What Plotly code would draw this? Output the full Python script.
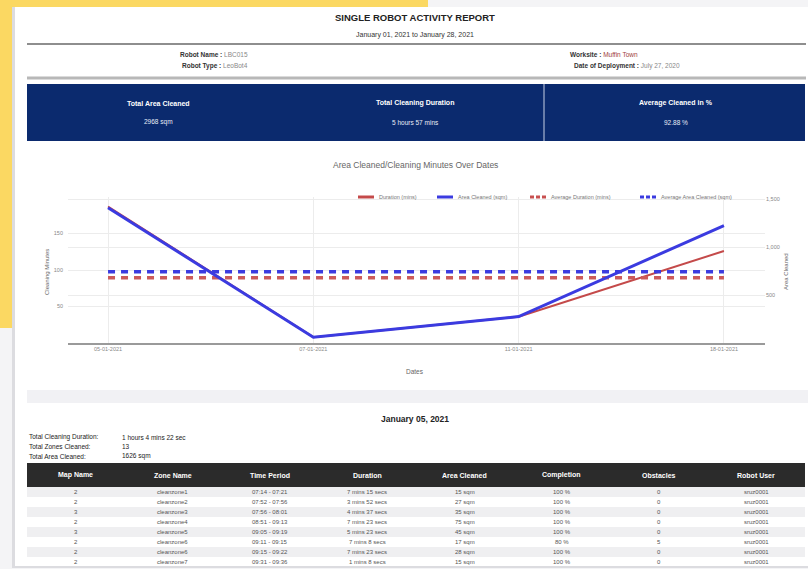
import plotly.graph_objects as go

W, H = 808, 569

# ---------------- data ----------------
dates = ["05-01-2021", "07-01-2021", "11-01-2021", "18-01-2021"]
duration_mins = [187, 8, 36, 126]
area_sqm = [1410, 60, 275, 1223]

left_ticks = [50, 100, 150]
right_ticks = [500, 1000, 1500]
right_tick_labels = ["500", "1,000", "1,500"]

table_headers = ["Map Name", "Zone Name", "Time Period", "Duration",
                 "Area Cleaned", "Completion", "Obstacles", "Robot User"]
map_names = ["2", "2", "3", "2", "3", "2", "2", "2"]
zone_names = ["cleanzone1", "cleanzone2", "cleanzone3", "cleanzone4",
              "cleanzone5", "cleanzone6", "cleanzone6", "cleanzone7"]
time_periods = ["07:14 - 07:21", "07:52 - 07:56", "07:56 - 08:01", "08:51 - 09:13",
                "09:05 - 09:19", "09:11 - 09:15", "09:15 - 09:22", "09:31 - 09:36"]
durations = ["7 mins 15 secs", "3 mins 52 secs", "4 mins 37 secs", "7 mins 23 secs",
             "5 mins 23 secs", "7 mins 8 secs", "7 mins 23 secs", "1 mins 8 secs"]
areas = ["15 sqm", "27 sqm", "35 sqm", "75 sqm", "45 sqm", "17 sqm", "28 sqm", "15 sqm"]
completions = ["100 %", "100 %", "100 %", "100 %", "100 %", "80 %", "100 %", "100 %"]
obstacles = ["0", "0", "0", "0", "0", "5", "0", "0"]
robot_users = ["sruz0001", "sruz0001", "sruz0001", "sruz0001",
               "sruz0001", "sruz0001", "sruz0001", "sruz0001"]

avg_duration = sum(duration_mins) / len(duration_mins)
avg_area = sum(area_sqm) / len(area_sqm)

# ---------------- helpers ----------------
def px(x):
    return x / W

def py(y):
    return 1 - y / H

FONT = "Liberation Sans, Arial, sans-serif"
NARROW = "Liberation Sans Narrow, Liberation Sans, Arial, sans-serif"

shapes = []
annotations = []

def rect(x0, y0, x1, y1, color, layer="below"):
    shapes.append(dict(type="rect", xref="paper", yref="paper",
                       x0=px(x0), x1=px(x1), y0=py(y1), y1=py(y0),
                       fillcolor=color, line=dict(width=0), layer=layer))

def hline(x0, x1, y, color, width, dash="solid", layer="below"):
    shapes.append(dict(type="line", xref="paper", yref="paper",
                       x0=px(x0), x1=px(x1), y0=py(y), y1=py(y),
                       line=dict(color=color, width=width, dash=dash), layer=layer))

def vline(x, y0, y1, color, width):
    shapes.append(dict(type="line", xref="paper", yref="paper",
                       x0=px(x), x1=px(x), y0=py(y0), y1=py(y1),
                       line=dict(color=color, width=width), layer="below"))

def ann(text, x, y, size, color="#222", xanchor="center", family=FONT, textangle=0):
    annotations.append(dict(text=text, xref="paper", yref="paper",
                            x=px(x), y=py(y), xanchor=xanchor, yanchor="middle",
                            showarrow=False, textangle=textangle,
                            font=dict(size=size, color=color, family=family)))

# ---------------- page background ----------------
rect(0, 0, 808, 569, "#f4f4f6")
rect(0, 0, 428, 9, "#fbd862")
rect(0, 0, 14, 328, "#fbd862")
rect(12, 7, 808, 568, "#dcdce0")
rect(15, 7, 808, 566, "#ffffff")

# header
ann("<b>SINGLE ROBOT ACTIVITY REPORT</b>", 415, 18, 9.5, "#222")
ann("January 01, 2021 to January 28, 2021", 415, 35, 7, "#333")
hline(27, 806, 44, "#8e8e8e", 2)
ann("<b>Robot Name :</b> <span style='color:#888'>LBC015</span>", 250, 55, 6.5, "#333", xanchor="right")
ann("<b>Robot Type :</b> <span style='color:#888'>LeoBot4</span>", 250, 66, 6.5, "#333", xanchor="right")
ann("<b>Worksite :</b> <span style='color:#a04040'>Muffin Town</span>", 640, 55, 6.5, "#333", xanchor="right")
ann("<b>Date of Deployment :</b> <span style='color:#888'>July 27, 2020</span>", 682, 66, 6.5, "#333", xanchor="right")
hline(27, 806, 78, "#b8b8b8", 3)

# blue summary box
rect(27, 84, 805, 141, "#0b2a6e")
vline(544, 84, 141, "#c8d0e4", 1)
ann("<b>Total Area Cleaned</b>", 158, 103, 7, "#ffffff")
ann("2968 sqm", 158, 122, 6.5, "#e8ecf6")
ann("<b>Total Cleaning Duration</b>", 415, 103, 7, "#ffffff")
ann("5 hours 57 mins", 415, 122, 6.5, "#e8ecf6")
ann("<b>Average Cleaned in %</b>", 676, 103, 7, "#ffffff")
ann("92.88 %", 676, 122, 6.5, "#e8ecf6")

# chart title and axis titles
ann("Area Cleaned/Cleaning Minutes Over Dates", 415, 165, 8.5, "#666")
ann("Cleaning Minutes", 47, 272, 6, "#666", textangle=-90)
ann("Area Cleaned", 786, 272, 6, "#666", textangle=-90)
ann("Dates", 415, 372, 6.5, "#666")

# custom legend
legend_items = [
    (358, "Duration (mins)", "#c44a4a", "solid"),
    (437, "Area Cleaned (sqm)", "#3b3be0", "solid"),
    (530, "Average Duration (mins)", "#c85050", "dot"),
    (640, "Average Area Cleaned (sqm)", "#3b3be0", "dot"),
]
for lx, label, col, d in legend_items:
    hline(lx, lx + 16, 197, col, 3, dash="solid" if d == "solid" else "4px,2px", layer="above")
    ann(label, lx + 19, 197, 5.5, "#777", xanchor="left")

# grey band before daily section
rect(27, 390, 808, 403, "#f1f1f4")

# daily section
ann("<b>January 05, 2021</b>", 415, 419, 8.5, "#222")
summary_labels = ["Total Cleaning Duration:", "Total Zones Cleaned:", "Total Area Cleaned:"]
summary_values = ["1 hours 4 mins 22 sec", "13", "1626 sqm"]
for i, (lab, val) in enumerate(zip(summary_labels, summary_values)):
    yy = 437 + i * 9.5
    ann(lab, 27, yy, 6.5, "#222", xanchor="left", family=NARROW)
    ann(val, 120, yy, 6.5, "#222", xanchor="left", family=NARROW)

# table drawn from the arrays
tx0, tx1 = 27, 805
head_y0, head_y1 = 463, 487
row_h = 10
col_w = (tx1 - tx0) / len(table_headers)
cols = [map_names, zone_names, time_periods, durations, areas,
        completions, obstacles, robot_users]
rect(tx0, head_y0, tx1, head_y1, "#2b2b2b")
for j, h in enumerate(table_headers):
    ann("<b>%s</b>" % h, tx0 + col_w * (j + 0.5), (head_y0 + head_y1) / 2, 7, "#ffffff")
n_rows = len(map_names)
for i in range(n_rows):
    ry0 = head_y1 + i * row_h
    ry1 = min(ry0 + row_h, 566)
    if i % 2 == 0:
        rect(tx0, ry0, tx1, ry1, "#efeff1")
    for j, col in enumerate(cols):
        cy = ry0 + row_h / 2
        if cy < 563:
            ann(col[i], tx0 + col_w * (j + 0.5), cy, 6, "#555", family=NARROW)

# ---------------- figure ----------------
fig = go.Figure()

blue = "#3b3be0"
red = "#c44a4a"

fig.add_trace(go.Scatter(x=dates, y=duration_mins, mode="lines",
                         line=dict(color=red, width=2), name="Duration (mins)",
                         yaxis="y"))
fig.add_trace(go.Scatter(x=dates, y=[avg_duration] * len(dates), mode="lines",
                         line=dict(color="#cc5a5a", width=3.5, dash="7px,6px"),
                         name="Average Duration (mins)", yaxis="y"))
fig.add_trace(go.Scatter(x=dates, y=[avg_area] * len(dates), mode="lines",
                         line=dict(color=blue, width=3.5, dash="7px,6px"),
                         name="Average Area Cleaned (sqm)", yaxis="y2"))
fig.add_trace(go.Scatter(x=dates, y=area_sqm, mode="lines",
                         line=dict(color=blue, width=3), name="Area Cleaned (sqm)",
                         yaxis="y2"))

fig.update_layout(
    width=W, height=H, autosize=False,
    margin=dict(l=0, r=0, t=0, b=0),
    paper_bgcolor="#ffffff", plot_bgcolor="rgba(0,0,0,0)",
    showlegend=False,
    font=dict(family=FONT, color="#777", size=6),
    xaxis=dict(domain=[px(68), px(765)], type="category",
               range=[-0.195, 3.2], showgrid=True, gridcolor="#ececec", gridwidth=1,
               showline=True, linecolor="#9a9a9a", linewidth=1.5,
               ticks="", tickfont=dict(size=5.5, color="#888"), fixedrange=True,
               zeroline=False),
    yaxis=dict(domain=[py(343), py(197)], range=[0, 200],
               tickvals=left_ticks, showgrid=True, gridcolor="#ececec",
               tickfont=dict(size=5.5, color="#888"), zeroline=False,
               showline=False, ticks="", ticklabelstandoff=4),
    yaxis2=dict(overlaying="y", side="right", range=[0, 1521],
                tickvals=right_ticks, ticktext=right_tick_labels,
                showgrid=True, gridcolor="#ececec",
                tickfont=dict(size=5.5, color="#888"), zeroline=False,
                showline=False, ticks=""),
    shapes=shapes,
    annotations=annotations,
)

fig.write_html("out.html",
               config={"displayModeBar": False},
               post_script="document.body.style.margin='0';document.body.style.overflow='hidden';")
